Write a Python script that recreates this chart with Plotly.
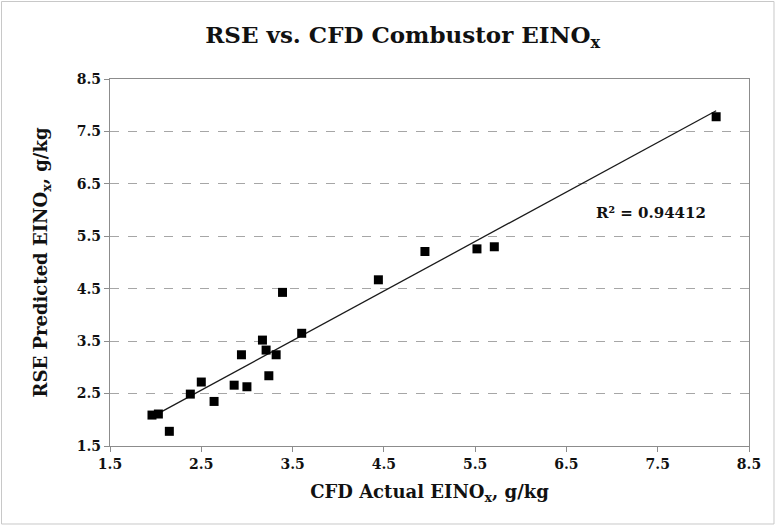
import numpy as np
import plotly.graph_objects as go

# Data
cfd_actual = [1.96, 2.03, 2.15, 2.38, 2.50, 2.64, 2.86, 3.00, 2.94, 3.17,
              3.21, 3.32, 3.24, 3.39, 3.60, 4.44, 4.95, 5.52, 5.71, 8.14]
rse_predicted = [2.09, 2.11, 1.78, 2.49, 2.72, 2.35, 2.66, 2.63, 3.24, 3.52,
                 3.33, 3.24, 2.84, 4.43, 3.65, 4.67, 5.21, 5.26, 5.30, 7.78]
tick_vals = [1.5, 2.5, 3.5, 4.5, 5.5, 6.5, 7.5, 8.5]
r2_text = "R² = 0.94412"

# Linear trendline (least squares) over the data range
slope, intercept = np.polyfit(cfd_actual, rse_predicted, 1)
tx = [min(cfd_actual), max(cfd_actual)]
ty = [slope * v + intercept for v in tx]

FONT = "DejaVu Serif"

fig = go.Figure()
fig.add_trace(go.Scatter(x=tx, y=ty, mode="lines",
                         line=dict(color="#1a1a1a", width=1.3),
                         hoverinfo="skip", showlegend=False))
fig.add_trace(go.Scatter(x=cfd_actual, y=rse_predicted, mode="markers",
                         marker=dict(symbol="square", size=9, color="black"),
                         showlegend=False))

fig.add_annotation(x=7.43, y=5.95, xref="x", yref="y", text=r2_text,
                   showarrow=False,
                   font=dict(family=FONT, size=15, color="#111", weight="bold"))

axis_common = dict(range=[1.5, 8.5], tickvals=tick_vals,
                   ticktext=[f"{v:.1f}" for v in tick_vals],
                   showline=True, linecolor="#8c8c8c", linewidth=1.3, mirror=True,
                   ticks="outside", ticklen=5, tickcolor="#8c8c8c",
                   tickfont=dict(family=FONT, size=14, color="#111", weight="bold"),
                   zeroline=False)

fig.update_xaxes(**axis_common, showgrid=False,
                 title=dict(text="CFD Actual EINO<sub>x</sub>, g/kg",
                            font=dict(family=FONT, size=18, color="#111", weight="bold"),
                            standoff=14))
fig.update_yaxes(**axis_common, showgrid=True, gridcolor="#a6a6a6",
                 griddash="dash", gridwidth=1,
                 title=dict(text="RSE Predicted EINO<sub>x</sub>, g/kg",
                            font=dict(family=FONT, size=18, color="#111", weight="bold"),
                            standoff=24))

# outer chart border
fig.add_shape(type="rect", xref="paper", yref="paper",
              x0=-0.1698, x1=1.0391, y0=-0.2125, y1=1.2112,
              line=dict(color="#c8c8c8", width=1), fillcolor="rgba(0,0,0,0)",
              layer="below")

fig.update_layout(
    width=776, height=527,
    margin=dict(l=110, r=27, t=79, b=81),
    paper_bgcolor="white", plot_bgcolor="white",
    title=dict(text="RSE vs. CFD Combustor EINO<sub>x</sub>",
               x=0.519, xanchor="center", y=0.933, yanchor="middle",
               font=dict(family=FONT, size=23, color="#111", weight="bold")),
)

fig.write_html("out.html", config={"displayModeBar": False},
               post_script="document.body.style.margin='0';")
